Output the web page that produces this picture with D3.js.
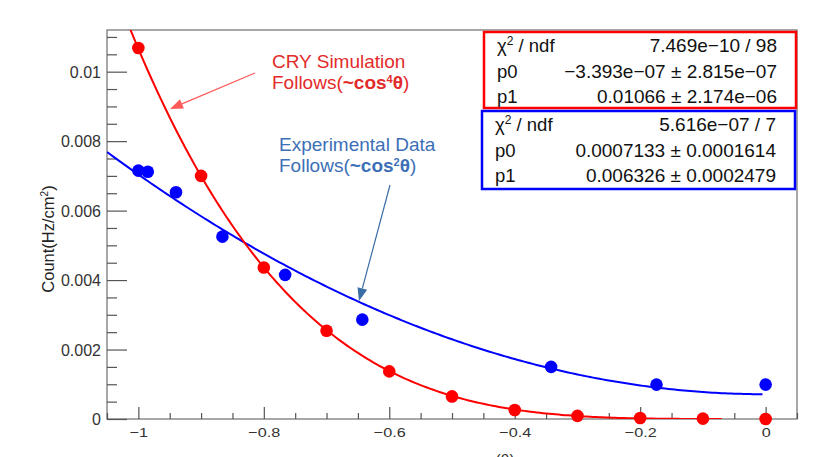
<!DOCTYPE html>
<html>
<head>
<meta charset="utf-8">
<script src="https://cdn.jsdelivr.net/npm/d3@7"></script>
<style>
  body { margin: 0; background: #fff; }
  svg { display: block; font-family: "Liberation Sans", Arial, sans-serif; }
</style>
</head>
<body>
<div id="chart"></div>
<script>
// ---- data ----
var simX = [-1, -0.9, -0.8, -0.7, -0.6, -0.5, -0.4, -0.3, -0.2, -0.1, 0];
var simY = [0.01068, 0.00700, 0.00436, 0.00254, 0.00137, 0.00065, 0.00026, 0.00009, 0.00003, 0.00001, 0.0];

var expX = [-1, -0.985, -0.94, -0.866, -0.766, -0.643, -0.342, -0.174, 0];
var expY = [0.00715, 0.00712, 0.00653, 0.00525, 0.00415, 0.00286, 0.00150, 0.00099, 0.00099];

// fit results  p0 + p1 * x^n
var simFit = [-3.393e-07, 0.01066], simPow = 4, simRange = [-1.05, -0.07];
var expFit = [0.0007133, 0.006326], expPow = 2, expRange = [-1.05, -0.005];

var xTicks = [-1, -0.8, -0.6, -0.4, -0.2, 0];
var yTicks = [0, 0.002, 0.004, 0.006, 0.008, 0.01];

var simStats = [["χ", "2", " / ndf", "7.469e\u221210 / 98"],
                ["p0", "", "", "\u22123.393e\u221207 \u00b1 2.815e\u221207"],
                ["p1", "", "", "0.01066 \u00b1 2.174e\u221206"]];
var expStats = [["χ", "2", " / ndf", "5.616e\u221207 / 7"],
                ["p0", "", "", "0.0007133 \u00b1 0.0001614"],
                ["p1", "", "", "0.006326 \u00b1 0.0002479"]];

// ---- layout ----
var width = 835, height = 457,
    frame = {left: 107, top: 30, right: 797, bottom: 419};

var svg = d3.select("#chart").append("svg")
    .attr("width", width)
    .attr("height", height);

var x = d3.scaleLinear().domain([-1.05, 0.05]).range([frame.left, frame.right]);
var y = d3.scaleLinear().domain([0, 0.0112]).range([frame.bottom, frame.top]);

svg.append("defs").append("clipPath").attr("id", "clip")
  .append("rect")
    .attr("x", frame.left).attr("y", frame.top)
    .attr("width", frame.right - frame.left).attr("height", frame.bottom - frame.top);

// frame
svg.append("rect")
    .attr("x", frame.left).attr("y", frame.top)
    .attr("width", frame.right - frame.left).attr("height", frame.bottom - frame.top)
    .attr("fill", "none").attr("stroke", "#6e6e6e").attr("stroke-width", 1.2);

// minor tick values
var xMinor = d3.range(-1.05, 0.0501, 0.05).map(function(d){ return +d.toFixed(2); })
    .filter(function(d){ return xTicks.indexOf(d) < 0; });
var yMinor = d3.range(0, 0.0112, 0.0005).map(function(d){ return +d.toFixed(4); })
    .filter(function(d){ return yTicks.indexOf(d) < 0; });

var fmtY = function(d){ return d === 0 ? "0" : String(+d.toFixed(3)); };
var fmtX = function(d){ return d === 0 ? "0" : d3.format("")(d); };

// x axis
var gx = svg.append("g").attr("transform", "translate(0," + frame.bottom + ")")
    .call(d3.axisBottom(x).tickValues(xTicks).tickSize(-12).tickPadding(18).tickFormat(fmtX));
svg.append("g").attr("transform", "translate(0," + frame.bottom + ")")
    .call(d3.axisBottom(x).tickValues(xMinor).tickSize(-6).tickFormat(""));

// y axis
var gy = svg.append("g").attr("transform", "translate(" + frame.left + ",0)")
    .call(d3.axisLeft(y).tickValues(yTicks).tickSize(-20).tickPadding(6).tickFormat(fmtY));
svg.append("g").attr("transform", "translate(" + frame.left + ",0)")
    .call(d3.axisLeft(y).tickValues(yMinor).tickSize(-10).tickFormat(""));

svg.selectAll(".domain").remove();
svg.selectAll(".tick line").attr("stroke", "#555").attr("stroke-width", 1.2);
gx.selectAll("text").attr("font-size", 13.5).attr("fill", "#333")
    .attr("dy", 0).attr("y", 18).attr("transform", "scale(1.2,1)");
gy.selectAll("text").attr("font-size", 16).attr("fill", "#333").attr("dy", "0.36em");

// axis titles
svg.append("text")
    .attr("transform", "translate(54,239) rotate(-90)")
    .attr("text-anchor", "middle")
    .attr("font-size", 16.5).attr("fill", "#222")
    .text("Count(Hz/cm")
  .append("tspan").attr("font-size", 10).attr("dy", -6).text("2")
  .select(function(){ return this.parentNode; })
  .append("tspan").attr("dy", 6).text(")");

svg.append("text")
    .attr("x", 505).attr("y", 466)
    .attr("text-anchor", "middle")
    .attr("font-size", 16).attr("fill", "#333")
    .text("(θ)");

// fit curves
function fitLine(p, n, range) {
  var pts = d3.range(range[0], range[1] + 1e-9, 0.005).map(function(v){
    return [v, p[0] + p[1] * Math.pow(v, n)];
  });
  return d3.line().x(function(d){ return x(d[0]); }).y(function(d){ return y(d[1]); })(pts);
}

var plot = svg.append("g").attr("clip-path", "url(#clip)");

plot.append("path")
    .attr("d", fitLine(expFit, expPow, expRange))
    .attr("fill", "none").attr("stroke", "#0000ff").attr("stroke-width", 2);
plot.append("path")
    .attr("d", fitLine(simFit, simPow, simRange))
    .attr("fill", "none").attr("stroke", "#ff0000").attr("stroke-width", 2);

// markers
plot.selectAll(".exp").data(expX).enter().append("circle")
    .attr("cx", function(d){ return x(d); })
    .attr("cy", function(d, i){ return y(expY[i]); })
    .attr("r", 6.3).attr("fill", "#0000ff");
svg.selectAll(".sim").data(simX).enter().append("circle")
    .attr("cx", function(d){ return x(d); })
    .attr("cy", function(d, i){ return y(simY[i]); })
    .attr("r", 6.3).attr("fill", "#ff0000");

// annotations
function arrow(x1, y1, x2, y2, color, w) {
  var ang = Math.atan2(y2 - y1, x2 - x1), L = 13, hw = 5;
  var bx = x2 - L * Math.cos(ang), by = y2 - L * Math.sin(ang);
  svg.append("line")
      .attr("x1", x1).attr("y1", y1).attr("x2", bx).attr("y2", by)
      .attr("stroke", color).attr("stroke-width", w);
  svg.append("path")
      .attr("d", "M" + x2 + "," + y2 +
                 "L" + (bx + hw * Math.sin(ang)) + "," + (by - hw * Math.cos(ang)) +
                 "L" + (bx - hw * Math.sin(ang)) + "," + (by + hw * Math.cos(ang)) + "Z")
      .attr("fill", color);
}
arrow(255, 73, 170, 109, "#ff5a5a", 1.3);
arrow(390, 185, 359, 301, "#3a6ea5", 1.2);

function label(tx, ty, l1, pow, color) {
  var t = svg.append("text").attr("x", tx).attr("y", ty)
      .attr("font-size", 19).attr("fill", color);
  t.append("tspan").attr("x", tx).text(l1);
  t.append("tspan").attr("x", tx).attr("dy", 21).text("Follows(");
  t.append("tspan").attr("font-weight", "bold").text("~cos");
  t.append("tspan").attr("font-weight", "bold").attr("font-size", 11).attr("dy", -6).text(pow);
  t.append("tspan").attr("font-weight", "bold").attr("dy", 6).text("θ");
  t.append("tspan").text(")");
}
label(272, 68, "CRY Simulation", "4", "#e22b2b");
label(279, 151, "Experimental Data", "2", "#3c6fb6");

// stats boxes
function statsBox(bx, by, bw, bh, rows, color) {
  svg.append("rect")
      .attr("x", bx).attr("y", by).attr("width", bw).attr("height", bh)
      .attr("fill", "#fff").attr("stroke", color).attr("stroke-width", 2.5);
  rows.forEach(function(r, i) {
    var ry = by + 20 + i * 25.5;
    var t = svg.append("text").attr("x", bx + 13).attr("y", ry)
        .attr("font-size", 18.5).attr("fill", "#111");
    t.append("tspan").text(r[0]);
    if (r[1]) {
      t.append("tspan").attr("font-size", 12).attr("dy", -7).text(r[1]);
      t.append("tspan").attr("dy", 7).text(r[2]);
    }
    svg.append("text").attr("x", bx + bw - 19).attr("y", ry)
        .attr("text-anchor", "end")
        .attr("font-size", 19).attr("fill", "#111")
        .text(r[3]);
  });
}
statsBox(484, 32, 312, 76, simStats, "#ff0000");
statsBox(482, 111, 313, 78, expStats, "#0000ff");
</script>
</body>
</html>
